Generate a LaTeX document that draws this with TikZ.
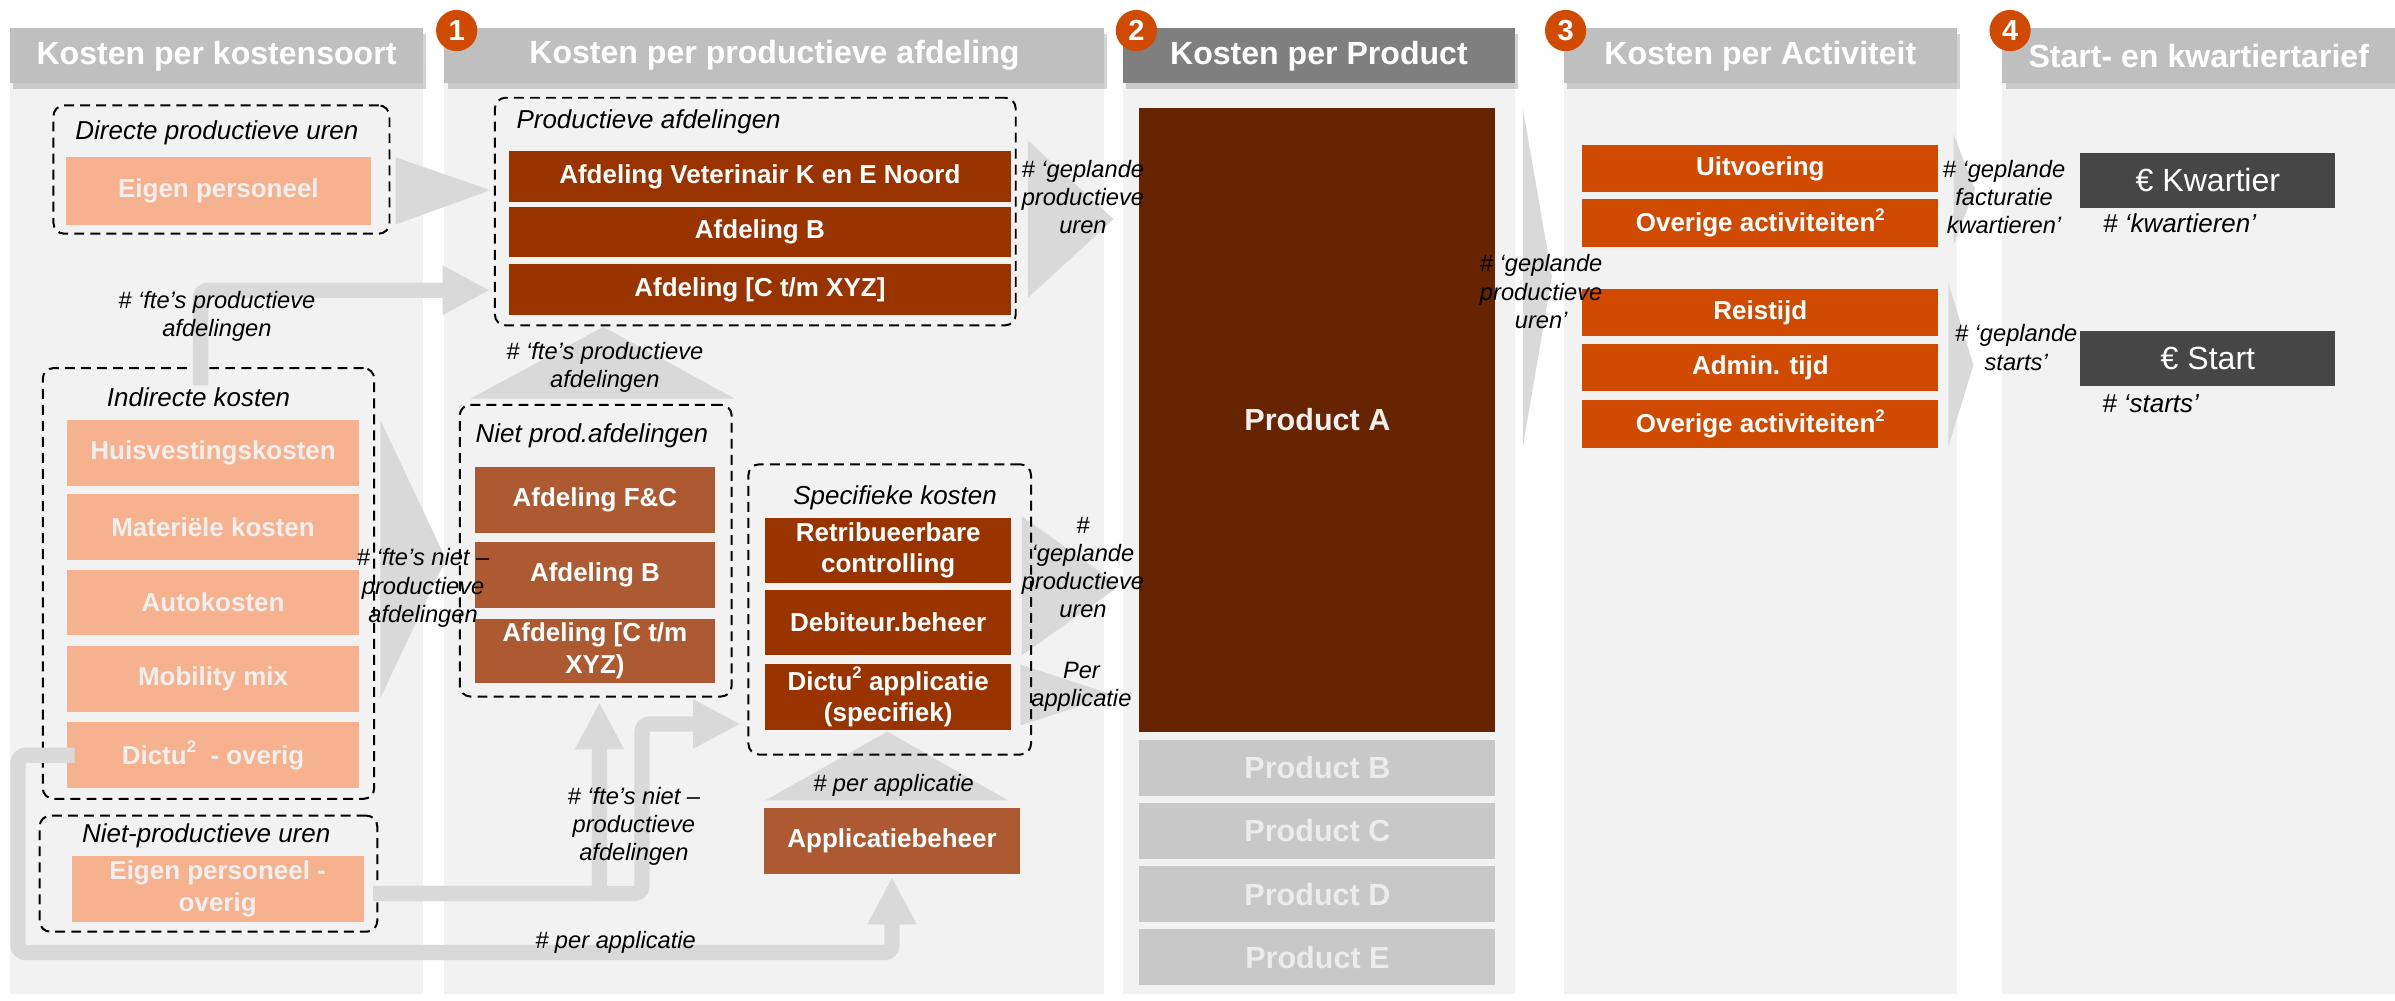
\documentclass[tikz,border=0pt]{standalone}
\usepackage{fontspec}
\setmainfont{Liberation Sans}
\usetikzlibrary{arrows.meta,calc,shadows}
\definecolor{colbg}{RGB}{242,242,242}
\definecolor{hdrgray}{RGB}{191,191,191}
\definecolor{hdrdark}{RGB}{127,127,127}
\definecolor{pwcorange}{RGB}{208,74,2}
\definecolor{salmon}{RGB}{246,178,142}
\definecolor{salmontext}{RGB}{242,240,238}
\definecolor{rust}{RGB}{153,51,0}
\definecolor{brick}{RGB}{173,90,50}
\definecolor{prodbrown}{RGB}{102,36,0}
\definecolor{prodgray}{RGB}{200,200,200}
\definecolor{prodtext}{RGB}{236,236,236}
\definecolor{eurogray}{RGB}{70,70,70}
\definecolor{arrowgray}{RGB}{217,217,217}
\newcommand{\sqd}{\raisebox{0.45em}{\fontsize{11}{11}\selectfont 2}}
\tikzset{every picture/.style={x=1pt,y=-1pt}}
\tikzset{colhead/.style={fill=hdrgray,text=white,font=\bfseries\fontsize{21}{24}\selectfont,minimum height=36pt,inner sep=0pt,drop shadow={shadow xshift=2pt,shadow yshift=-4pt,opacity=.35}}}
\tikzset{badge/.style={circle,fill=pwcorange,text=white,font=\bfseries\fontsize{19}{20}\selectfont,minimum size=27pt,inner sep=0pt}}
\tikzset{grpbox/.style={draw,line width=1.3pt,dash pattern=on 6.5pt off 4pt,rounded corners=7pt,inner sep=0pt}}
\tikzset{grplabel/.style={font=\itshape\fontsize{17}{20}\selectfont,inner sep=0pt}}
\tikzset{itembox/.style={inner sep=0pt,align=center,text=white,font=\bfseries\fontsize{17}{20.5}\selectfont}}
\tikzset{lightbox/.style={itembox,fill=salmon,text=salmontext}}
\tikzset{darkbox/.style={itembox,fill=rust}}
\tikzset{midbox/.style={itembox,fill=brick}}
\tikzset{actbox/.style={itembox,fill=pwcorange}}
\tikzset{prodbox/.style={itembox,fill=prodgray,text=prodtext,font=\bfseries\fontsize{20}{24}\selectfont}}
\tikzset{eurobox/.style={fill=eurogray,text=white,font=\fontsize{21}{24}\selectfont,inner sep=0pt}}
\tikzset{annot/.style={font=\itshape\fontsize{15.5}{18.5}\selectfont,align=center,inner sep=0pt}}
\tikzset{flow/.style={fill=arrowgray}}
\tikzset{band/.style={draw=arrowgray,line width=10pt,rounded corners=5pt,-{Triangle[length=31pt,width=30pt]}}}

\begin{document}
\begin{tikzpicture}
\useasboundingbox (0,0) rectangle (1568,655);
\fill [colbg] (6.5,54) rectangle (277,651);
\fill [colbg] (291,54) rectangle (723,651);
\fill [colbg] (735,54) rectangle (992,651);
\fill [colbg] (1024,54) rectangle (1281,651);
\fill [colbg] (1311,54) rectangle (1568,651);
\node [colhead,minimum width=270.5pt] (hdrSoort) at (141.75,36.5) {Kosten per kostensoort};
\node [colhead,minimum width=432pt] (hdrAfd) at (507,36.5) {Kosten per productieve afdeling};
\node [colhead,fill=hdrdark,minimum width=257pt] (hdrProd) at (863.5,36.5) {Kosten per Product};
\node [colhead,minimum width=257pt] (hdrAct) at (1152.5,36.5) {Kosten per Activiteit};
\node [colhead,minimum width=257pt] (hdrTarief) at (1439.5,36.5) {Start- en kwartiertarief};
\node [badge] (nr1) at (299,20) {1};
\node [badge] (nr2) at (744,20) {2};
\node [badge] (nr3) at (1025,20) {3};
\node [badge] (nr4) at (1316,20) {4};

\fill [flow] (259,103) -- (259,147) -- (321,124.5) -- cycle;
\fill [flow] (249,275) -- (249,457) -- (292,366) -- cycle;
\fill [flow] (308,261) -- (481,261) -- (395,214) -- cycle;
\fill [flow] (673,92) -- (673,195) -- (729,143.5) -- cycle;
\fill [flow] (669,338) -- (669,429) -- (733,383.5) -- cycle;
\fill [flow] (668,435) -- (668,475) -- (729,455) -- cycle;
\fill [flow] (501,524) -- (660,524) -- (581,479) -- cycle;
\fill [flow] (997,71) -- (997,292.5) -- (1016,181) -- cycle;
\fill [flow] (1279,88) -- (1279,160.5) -- (1293,124) -- cycle;
\fill [flow] (1275.5,185) -- (1275.5,292.5) -- (1292,239) -- cycle;

\node [grpbox,minimum width=220pt,minimum height=84pt] (grpDir) at (145,111) {};
\node [grpbox,minimum width=217pt,minimum height=282pt] (grpInd) at (136.5,382) {};
\node [grpbox,minimum width=221pt,minimum height=76pt] (grpNietU) at (136.5,572) {};
\node [grpbox,minimum width=341pt,minimum height=149pt] (grpProd) at (494.5,138.5) {};
\node [grpbox,minimum width=178pt,minimum height=191pt] (grpNiet) at (390,360.5) {};
\node [grpbox,minimum width=185pt,minimum height=190pt] (grpSpec) at (582.5,399) {};

\node [lightbox,minimum width=200pt,minimum height=44pt] (eigen) at (143,125) {Eigen personeel};
\node [lightbox,minimum width=191pt,minimum height=43pt] (huis) at (139.5,296.5) {Huisvestingskosten};
\node [lightbox,minimum width=191pt,minimum height=43pt] (mat) at (139.5,345) {Materiële kosten};
\node [lightbox,minimum width=191pt,minimum height=43pt] (auto) at (139.5,394.5) {Autokosten};
\node [lightbox,minimum width=191pt,minimum height=43pt] (mob) at (139.5,444.5) {Mobility mix};
\node [lightbox,minimum width=191pt,minimum height=43pt] (dictu) at (139.5,494.5) {Dictu\sqd\ \ - overig};
\node [lightbox,minimum width=191pt,minimum height=43.5pt] (eigenO) at (142.5,582) {Eigen personeel -\\overig};

\node [darkbox,minimum width=329pt,minimum height=33pt] (afdVet) at (497.5,115.5) {Afdeling Veterinair K en E Noord};
\node [darkbox,minimum width=329pt,minimum height=33pt] (afdB) at (497.5,152) {Afdeling B};
\node [darkbox,minimum width=329pt,minimum height=33pt] (afdC) at (497.5,189.5) {Afdeling [C t/m XYZ]};
\node [midbox,minimum width=157pt,minimum height=43pt] (afdFC) at (389.5,327.5) {Afdeling F\&C};
\node [midbox,minimum width=157pt,minimum height=43pt] (afdB2) at (389.5,376.5) {Afdeling B};
\node [midbox,minimum width=157pt,minimum height=42pt] (afdC2) at (389.5,426) {Afdeling [C t/m\\XYZ)};
\node [darkbox,minimum width=161pt,minimum height=43pt] (retrib) at (581.5,360.5) {Retribueerbare\\controlling};
\node [darkbox,minimum width=161pt,minimum height=43pt] (debit) at (581.5,407.5) {Debiteur.beheer};
\node [darkbox,minimum width=161pt,minimum height=43pt] (dictuApp) at (581.5,456.5) {Dictu\sqd\ applicatie\\(specifiek)};
\node [midbox,minimum width=168pt,minimum height=43pt] (applic) at (584,550.5) {Applicatiebeheer};

\node [prodbox,fill=prodbrown,text=salmontext,minimum width=233pt,minimum height=408pt] (prodA) at (862.5,275) {Product A};
\node [prodbox,minimum width=233pt,minimum height=36.5pt] (prodB) at (862.5,502.8) {Product B};
\node [prodbox,minimum width=233pt,minimum height=36.5pt] (prodC) at (862.5,544.1) {Product C};
\node [prodbox,minimum width=233pt,minimum height=36.5pt] (prodD) at (862.5,585.4) {Product D};
\node [prodbox,minimum width=233pt,minimum height=36.5pt] (prodE) at (862.5,626.7) {Product E};

\node [actbox,minimum width=233pt,minimum height=31pt] (uitv) at (1152.5,110.3) {Uitvoering};
\node [actbox,minimum width=233pt,minimum height=31pt] (overig1) at (1152.5,146) {Overige activiteiten\sqd};
\node [actbox,minimum width=233pt,minimum height=31pt] (reis) at (1152.5,204.5) {Reistijd};
\node [actbox,minimum width=233pt,minimum height=31pt] (admin) at (1152.5,240.5) {Admin. tijd};
\node [actbox,minimum width=233pt,minimum height=31pt] (overig2) at (1152.5,277.5) {Overige activiteiten\sqd};

\node [eurobox,minimum width=167pt,minimum height=36pt] (kwart) at (1445.5,118) {€ Kwartier};
\node [eurobox,minimum width=167pt,minimum height=36pt] (start) at (1445.5,234.5) {€ Start};

\draw [band] ($(grpInd.north west)+(104,12)$) |- ($(afdC.west)+(-12,0.5)$);
\draw [band] ($(dictu.west)+(5,0)$) -| ($(grpNietU.south west)+(-13.5,13)$) -| ($(applic.south)+(0,2)$);
\draw [band] ($(eigenO.east)+(6,3)$) -| ($(grpNiet.south)+(2.5,3)$);
\draw [band] ($(eigenO.east)+(6,3)$) -| ($(dictuApp.west)+(-80.5,17.5)$) -- ($(dictuApp.west)+(-16,17.5)$);

\node [grplabel] (lblDir) at (142,87) {Directe productieve uren};
\node [grplabel] (lblInd) at (130,260) {Indirecte kosten};
\node [grplabel] (lblNietU) at (135,547) {Niet-productieve uren};
\node [grplabel,anchor=west] (lblProd) at (338,80) {Productieve afdelingen};
\node [grplabel] (lblNiet) at (387.5,285) {Niet prod.afdelingen};
\node [grplabel] (lblSpec) at (586,326) {Specifieke kosten};

\node [annot] (fteProd1) at (142,207) {\# ‘fte’s productieve\\afdelingen};
\node [annot] (fteNiet1) at (277,385) {\# ‘fte’s niet –\\productieve\\afdelingen};
\node [annot] (fteNiet2) at (415,541) {\# ‘fte’s niet –\\productieve\\afdelingen};
\node [annot] (fteProd2) at (396,240.5) {\# ‘fte’s productieve\\afdelingen};
\node [annot] (gepl1) at (709,129) {\# ‘geplande\\productieve\\uren};
\node [annot] (gepl2) at (709,371.5) {\#\\‘geplande\\productieve\\uren};
\node [annot] (perApp1) at (708,449.5) {Per\\applicatie};
\node [annot] (perApp2) at (585,514) {\# per applicatie};
\node [annot] (perApp3) at (403,617) {\# per applicatie};
\node [annot] (gepl3) at (1009,191) {\# ‘geplande\\productieve\\uren’};
\node [annot] (facturatie) at (1312,129) {\# ‘geplande\\facturatie\\kwartieren’};
\node [annot] (starts) at (1320,227.5) {\# ‘geplande\\starts’};
\node [grplabel] (kwartLbl) at (1427,146) {\# ‘kwartieren’};
\node [grplabel] (startLbl) at (1408,264) {\# ‘starts’};
\end{tikzpicture}
\end{document}
